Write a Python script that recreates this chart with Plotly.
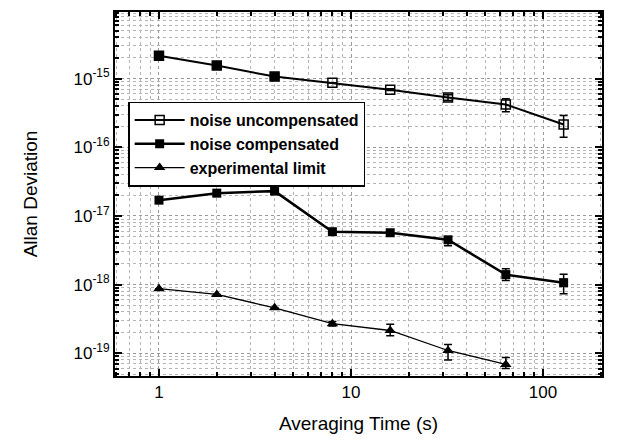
import plotly.graph_objects as go

tau = [1, 2, 4, 8, 16, 32, 64, 128]
uncomp = [2.15e-15, 1.55e-15, 1.07e-15, 8.7e-16, 6.9e-16, 5.3e-16, 4.2e-16, 2.15e-16]
uncomp_hi = [0, 0, 0, 0, 0.2e-16, 0.5e-16, 0.9e-16, 0.75e-16]
uncomp_lo = [0, 0, 0, 0, 0.2e-16, 0.5e-16, 0.9e-16, 0.75e-16]
n_filled = 3  # first uncompensated points appear filled in the original

comp = [1.7e-17, 2.15e-17, 2.3e-17, 5.9e-18, 5.7e-18, 4.5e-18, 1.4e-18, 1.07e-18]
comp_hi = [0, 0, 0, 0, 0, 0.5e-18, 0.3e-18, 0.35e-18]
comp_lo = [0, 0, 0, 0, 0, 0.8e-18, 0.25e-18, 0.33e-18]

tau_lim = [1, 2, 4, 8, 16, 32, 64]
lim = [8.75e-19, 7.2e-19, 4.6e-19, 2.7e-19, 2.15e-19, 1.1e-19, 6.9e-20]
lim_hi = [0, 0, 0, 0.2e-19, 0.5e-19, 0.25e-19, 1.8e-20]
lim_lo = [0, 0, 0, 0.2e-19, 0.35e-19, 0.3e-19, 0.9e-20]

names = ["noise uncompensated", "noise compensated", "experimental limit"]
ytick_vals = [1e-19, 1e-18, 1e-17, 1e-16, 1e-15]
ytick_text = ["10<sup>-19</sup>", "10<sup>-18</sup>", "10<sup>-17</sup>", "10<sup>-16</sup>", "10<sup>-15</sup>"]
xtick_vals = [1, 10, 100]
xtick_text = ["1", "10", "100"]

FONT = "Liberation Sans, Arial"

fig = go.Figure()
fig.add_trace(go.Scatter(
    x=tau, y=uncomp, name=names[0], mode="lines+markers",
    line=dict(color="black", width=2),
    marker=dict(symbol="square-open", size=9, color="black", line=dict(color="black", width=1.5)),
    error_y=dict(type="data", symmetric=False, array=uncomp_hi, arrayminus=uncomp_lo,
                 color="black", thickness=1.5, width=4),
))
fig.add_trace(go.Scatter(
    x=tau[:n_filled], y=uncomp[:n_filled], showlegend=False, mode="markers",
    marker=dict(symbol="square", size=9, color="black"), hoverinfo="skip",
))
fig.add_trace(go.Scatter(
    x=tau, y=comp, name=names[1], mode="lines+markers",
    line=dict(color="black", width=2.5),
    marker=dict(symbol="square", size=9, color="black"),
    error_y=dict(type="data", symmetric=False, array=comp_hi, arrayminus=comp_lo,
                 color="black", thickness=1.5, width=4),
))
fig.add_trace(go.Scatter(
    x=tau_lim, y=lim, name=names[2], mode="lines+markers",
    line=dict(color="black", width=1.3),
    marker=dict(symbol="triangle-up", size=10, color="black"),
    error_y=dict(type="data", symmetric=False, array=lim_hi, arrayminus=lim_lo,
                 color="black", thickness=1.5, width=4),
))

axis_common = dict(
    showline=True, linecolor="black", linewidth=2, mirror="allticks",
    ticks="inside", ticklen=7, tickwidth=2, tickcolor="black",
    showgrid=True, gridcolor="#999999", gridwidth=1, griddash="dot",
    zeroline=False,
    tickfont=dict(family=FONT, size=17, color="black"),
)
minor_common = dict(ticks="inside", ticklen=4, tickwidth=1.5, tickcolor="black", dtick="D1",
                    showgrid=True, gridcolor="#b5b5b5", griddash="dot", gridwidth=1)

fig.update_xaxes(
    type="log", range=[-0.229, 2.307],
    tickvals=xtick_vals, ticktext=xtick_text,
    title=dict(text="Averaging Time (s)", font=dict(family=FONT, size=19, color="black"), standoff=15),
    minor=minor_common,
    **axis_common,
)
fig.update_yaxes(
    type="log", range=[-19.33, -14.03],
    tickvals=ytick_vals, ticktext=ytick_text,
    title=dict(text="Allan Deviation", font=dict(family=FONT, size=19, color="black"), standoff=31),
    minor=minor_common,
    **axis_common,
)

fig.update_layout(
    width=629, height=445,
    margin=dict(l=115, r=27, t=10, b=69),
    paper_bgcolor="white", plot_bgcolor="white",
    showlegend=True,
    legend=dict(
        x=0.027, y=0.754, xanchor="left", yanchor="top",
        bgcolor="white", bordercolor="black", borderwidth=1.5,
        font=dict(family=FONT, size=16, color="black", weight="bold"),
        tracegroupgap=0, itemwidth=50,
    ),
)

fig.write_html("out.html")
